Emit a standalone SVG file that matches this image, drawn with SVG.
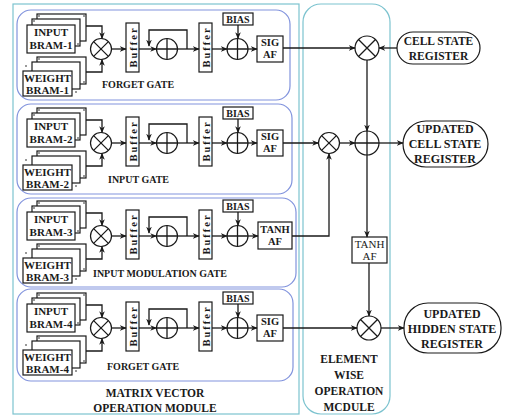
<svg xmlns="http://www.w3.org/2000/svg" width="507" height="417" viewBox="0 0 507 417">
<defs>
<style>
.t{font-family:"Liberation Serif",serif;font-weight:bold;font-size:11px;fill:#1a1a1a;text-anchor:middle}
.tb{font-family:"Liberation Serif",serif;font-weight:bold;font-size:10px;fill:#1a1a1a;text-anchor:middle}
.tg{font-family:"Liberation Serif",serif;font-weight:bold;font-size:10px;fill:#1a1a1a}
.tr{font-family:"Liberation Serif",serif;font-weight:bold;font-size:12px;fill:#1a1a1a;text-anchor:middle}
.tn{font-family:"Liberation Serif",serif;font-size:11px;fill:#1a1a1a;text-anchor:middle}
.bx{fill:#fff;stroke:#1a1a1a;stroke-width:1.2}
.op{fill:#fff;stroke:#1a1a1a;stroke-width:1.2}
.ln{fill:none;stroke:#1a1a1a;stroke-width:1.3}
.ar{fill:none;stroke:#1a1a1a;stroke-width:1.3;marker-end:url(#ah)}
.gate{fill:none;stroke:#8193dd;stroke-width:1.2}
.mod{fill:none;stroke:#7cc3cf;stroke-width:1.2}
.dot{fill:#1a1a1a}
.buf{font-family:"Liberation Serif",serif;font-weight:bold;font-size:10.5px;fill:#1a1a1a;text-anchor:middle;letter-spacing:2px}
</style>
<marker id="ah" viewBox="0 0 10 10" refX="9" refY="5" markerWidth="7" markerHeight="7" orient="auto" markerUnits="userSpaceOnUse">
<path d="M0,1 L10,5 L0,9 L3,5z" fill="#1a1a1a"/>
</marker>
<g id="mul"><circle r="10.5" class="op"/><path d="M-7.4,-7.4L7.4,7.4M-7.4,7.4L7.4,-7.4" class="ln" stroke-width="1"/></g>
<g id="add"><circle r="10.5" class="op"/><path d="M-10.5,0H10.5M0,-10.5V10.5" class="ln" stroke-width="1"/></g>
<g id="mulL"><circle r="12" class="op"/><path d="M-8.5,-8.5L8.5,8.5M-8.5,8.5L8.5,-8.5" class="ln" stroke-width="1"/></g>
<g id="addL"><circle r="12" class="op"/><path d="M-12,0H12M0,-12V12" class="ln" stroke-width="1"/></g>
</defs>
<rect width="507" height="417" fill="#fff"/>

<g id="matrix-vector-module">
<rect class="mod" x="13" y="4" width="286" height="410"/>
<text class="t" style="font-size:11.5px" x="155" y="397">MATRIX VECTOR</text>
<text class="t" style="font-size:11.5px" x="155" y="412">OPERATION MODULE</text>
</g>
<g id="element-wise-module">
<rect class="mod" x="303" y="4" width="87" height="410" rx="18"/>
<text class="t" style="font-size:11.5px" x="349" y="363">ELEMENT</text>
<text class="t" style="font-size:11.5px" x="349" y="379">WISE</text>
<text class="t" style="font-size:11.5px" x="349" y="395">OPERATION</text>
<text class="t" style="font-size:11.5px" x="349" y="411">MCDULE</text>
</g>

<g id="gate-boxes">
<rect id="gate1-box" class="gate" x="17" y="10" width="273" height="90" rx="14"/>
<rect id="gate2-box" class="gate" x="17" y="104" width="275" height="90" rx="14"/>
<rect id="gate3-box" class="gate" x="17" y="198" width="279" height="89" rx="14"/>
<rect id="gate4-box" class="gate" x="17" y="289" width="276" height="92" rx="14"/>
</g>

<!-- gate 1 -->
<g id="gate1" transform="translate(0,0)">
<g id="g1-input-bram">
<rect class="bx" x="37" y="14" width="49" height="27"/><rect class="bx" x="32" y="19" width="48" height="27"/><rect class="bx" x="27" y="25" width="48" height="28"/>
<circle class="dot" cx="39" cy="16" r="0.8"/><circle class="dot" cx="34" cy="21" r="0.8"/><circle class="dot" cx="84" cy="16" r="0.8"/><circle class="dot" cx="78" cy="44" r="0.8"/>
<text class="t" x="51" y="36">INPUT</text><text class="t" x="51" y="49">BRAM-1</text>
</g>
<g id="g1-weight-bram">
<rect class="bx" x="37" y="57" width="49" height="27"/><rect class="bx" x="32" y="62" width="48" height="27"/><rect class="bx" x="23" y="71" width="49" height="25"/>
<circle class="dot" cx="39" cy="59" r="0.8"/><circle class="dot" cx="26" cy="66" r="0.8"/><circle class="dot" cx="84" cy="82" r="0.8"/><circle class="dot" cx="76" cy="92" r="0.8"/>
<text class="t" x="47.5" y="82">WEIGHT</text><text class="t" x="47.5" y="94">BRAM-1</text>
</g>
<g id="g1-mul"><use href="#mul" x="101" y="49"/></g>
<g id="g1-buffer1"><rect class="bx" x="126" y="23" width="13" height="49"/><text class="buf" transform="translate(136.5,47) rotate(-90)">Buffer</text></g>
<g id="g1-acc"><use href="#add" x="167" y="49"/></g>
<g id="g1-buffer2"><rect class="bx" x="199" y="23" width="13" height="49"/><text class="buf" transform="translate(209.5,47) rotate(-90)">Buffer</text></g>
<g id="g1-bias"><rect class="bx" x="223" y="13" width="30" height="12"/><text class="tb" x="238" y="23">BIAS</text></g>
<g id="g1-add"><use href="#add" x="237.5" y="49"/></g>
<g id="g1-af"><rect class="bx" x="257" y="36" width="26" height="26"/><text class="t" style="font-size:10.5px" x="270" y="46">SIG</text><text class="t" style="font-size:10.5px" x="270" y="58">AF</text></g>
<text class="tg" x="102" y="88">FORGET GATE</text>
</g>

<!-- gate 2 -->
<g id="gate2" transform="translate(0,94)">
<g id="g2-input-bram">
<rect class="bx" x="37" y="14" width="49" height="27"/><rect class="bx" x="32" y="19" width="48" height="27"/><rect class="bx" x="27" y="25" width="48" height="28"/>
<circle class="dot" cx="39" cy="16" r="0.8"/><circle class="dot" cx="34" cy="21" r="0.8"/><circle class="dot" cx="84" cy="16" r="0.8"/><circle class="dot" cx="78" cy="44" r="0.8"/>
<text class="t" x="51" y="36">INPUT</text><text class="t" x="51" y="49">BRAM-2</text>
</g>
<g id="g2-weight-bram">
<rect class="bx" x="37" y="57" width="49" height="27"/><rect class="bx" x="32" y="62" width="48" height="27"/><rect class="bx" x="23" y="71" width="49" height="25"/>
<circle class="dot" cx="39" cy="59" r="0.8"/><circle class="dot" cx="26" cy="66" r="0.8"/><circle class="dot" cx="84" cy="82" r="0.8"/><circle class="dot" cx="76" cy="92" r="0.8"/>
<text class="t" x="47.5" y="82">WEIGHT</text><text class="t" x="47.5" y="94">BRAM-2</text>
</g>
<g id="g2-mul"><use href="#mul" x="101" y="49"/></g>
<g id="g2-buffer1"><rect class="bx" x="126" y="23" width="13" height="49"/><text class="buf" transform="translate(136.5,47) rotate(-90)">Buffer</text></g>
<g id="g2-acc"><use href="#add" x="167" y="49"/></g>
<g id="g2-buffer2"><rect class="bx" x="199" y="23" width="13" height="49"/><text class="buf" transform="translate(209.5,47) rotate(-90)">Buffer</text></g>
<g id="g2-bias"><rect class="bx" x="223" y="13" width="30" height="12"/><text class="tb" x="238" y="23">BIAS</text></g>
<g id="g2-add"><use href="#add" x="237.5" y="49"/></g>
<g id="g2-af"><rect class="bx" x="257" y="36" width="26" height="26"/><text class="t" style="font-size:10.5px" x="270" y="46">SIG</text><text class="t" style="font-size:10.5px" x="270" y="58">AF</text></g>
<text class="tg" x="108" y="89">INPUT GATE</text>
</g>

<!-- gate 3 -->
<g id="gate3" transform="translate(0,187)">
<g id="g3-input-bram">
<rect class="bx" x="37" y="14" width="49" height="27"/><rect class="bx" x="32" y="19" width="48" height="27"/><rect class="bx" x="27" y="25" width="48" height="28"/>
<circle class="dot" cx="39" cy="16" r="0.8"/><circle class="dot" cx="34" cy="21" r="0.8"/><circle class="dot" cx="84" cy="16" r="0.8"/><circle class="dot" cx="78" cy="44" r="0.8"/>
<text class="t" x="51" y="36">INPUT</text><text class="t" x="51" y="49">BRAM-3</text>
</g>
<g id="g3-weight-bram">
<rect class="bx" x="37" y="57" width="49" height="27"/><rect class="bx" x="32" y="62" width="48" height="27"/><rect class="bx" x="23" y="71" width="49" height="25"/>
<circle class="dot" cx="39" cy="59" r="0.8"/><circle class="dot" cx="26" cy="66" r="0.8"/><circle class="dot" cx="84" cy="82" r="0.8"/><circle class="dot" cx="76" cy="92" r="0.8"/>
<text class="t" x="47.5" y="82">WEIGHT</text><text class="t" x="47.5" y="94">BRAM-3</text>
</g>
<g id="g3-mul"><use href="#mul" x="101" y="49"/></g>
<g id="g3-buffer1"><rect class="bx" x="126" y="23" width="13" height="49"/><text class="buf" transform="translate(136.5,47) rotate(-90)">Buffer</text></g>
<g id="g3-acc"><use href="#add" x="167" y="49"/></g>
<g id="g3-buffer2"><rect class="bx" x="199" y="23" width="13" height="49"/><text class="buf" transform="translate(209.5,47) rotate(-90)">Buffer</text></g>
<g id="g3-bias"><rect class="bx" x="223" y="13" width="30" height="12"/><text class="tb" x="238" y="23">BIAS</text></g>
<g id="g3-add"><use href="#add" x="237.5" y="49"/></g>
<g id="g3-af"><rect class="bx" x="258" y="35" width="34" height="27"/><text class="t" style="font-size:10.5px" x="275" y="46">TANH</text><text class="t" style="font-size:10.5px" x="275" y="58">AF</text></g>
<text class="tg" x="93" y="90">INPUT MODULATION GATE</text>
</g>

<!-- gate 4 -->
<g id="gate4" transform="translate(0,279)">
<g id="g4-input-bram">
<rect class="bx" x="37" y="14" width="49" height="27"/><rect class="bx" x="32" y="19" width="48" height="27"/><rect class="bx" x="27" y="25" width="48" height="28"/>
<circle class="dot" cx="39" cy="16" r="0.8"/><circle class="dot" cx="34" cy="21" r="0.8"/><circle class="dot" cx="84" cy="16" r="0.8"/><circle class="dot" cx="78" cy="44" r="0.8"/>
<text class="t" x="51" y="36">INPUT</text><text class="t" x="51" y="49">BRAM-4</text>
</g>
<g id="g4-weight-bram">
<rect class="bx" x="37" y="57" width="49" height="27"/><rect class="bx" x="32" y="62" width="48" height="27"/><rect class="bx" x="23" y="71" width="49" height="25"/>
<circle class="dot" cx="39" cy="59" r="0.8"/><circle class="dot" cx="26" cy="66" r="0.8"/><circle class="dot" cx="84" cy="82" r="0.8"/><circle class="dot" cx="76" cy="92" r="0.8"/>
<text class="t" x="47.5" y="82">WEIGHT</text><text class="t" x="47.5" y="94">BRAM-4</text>
</g>
<g id="g4-mul"><use href="#mul" x="101" y="49"/></g>
<g id="g4-buffer1"><rect class="bx" x="126" y="23" width="13" height="49"/><text class="buf" transform="translate(136.5,47) rotate(-90)">Buffer</text></g>
<g id="g4-acc"><use href="#add" x="167" y="49"/></g>
<g id="g4-buffer2"><rect class="bx" x="199" y="23" width="13" height="49"/><text class="buf" transform="translate(209.5,47) rotate(-90)">Buffer</text></g>
<g id="g4-bias"><rect class="bx" x="223" y="13" width="30" height="12"/><text class="tb" x="238" y="23">BIAS</text></g>
<g id="g4-add"><use href="#add" x="237.5" y="49"/></g>
<g id="g4-af"><rect class="bx" x="257" y="36" width="26" height="26"/><text class="t" style="font-size:10.5px" x="270" y="46">SIG</text><text class="t" style="font-size:10.5px" x="270" y="58">AF</text></g>
<text class="tg" x="107" y="91">FORGET GATE</text>
</g>

<!-- element-wise nodes -->
<g id="ew-mul-cell"><use href="#mulL" x="367" y="48"/></g>
<g id="ew-mul-input"><use href="#mul" x="329" y="143"/></g>
<g id="ew-add-cell"><use href="#addL" x="367" y="143"/></g>
<g id="ew-tanh"><rect class="bx" x="352" y="237" width="35" height="26" stroke-width="1"/><text class="tn" x="369.5" y="248">TANH</text><text class="tn" x="369.5" y="260">AF</text></g>
<g id="ew-mul-hidden"><use href="#mulL" x="369" y="328"/></g>

<!-- registers -->
<g id="cell-state-register"><rect class="bx" x="397" y="32" width="83" height="32" rx="16"/><text class="tr" style="font-size:11.5px" x="438.5" y="45">CELL STATE</text><text class="tr" style="font-size:11.5px" x="438.5" y="60">REGISTER</text></g>
<g id="updated-cell-state-register"><rect class="bx" x="403" y="121" width="85" height="46" rx="23"/><text class="tr" x="445" y="133">UPDATED</text><text class="tr" x="445" y="148">CELL STATE</text><text class="tr" x="445" y="163">REGISTER</text></g>
<g id="updated-hidden-state-register"><rect class="bx" x="404" y="303" width="97" height="50" rx="24"/><text class="tr" x="452" y="318">UPDATED</text><text class="tr" x="452" y="333">HIDDEN STATE</text><text class="tr" x="452" y="348">REGISTER</text></g>

<g id="connectors">
<g id="gate1-connectors" transform="translate(0,0)">
<path class="ar" d="M86,26H102V38.5"/><path class="ar" d="M86,72H102V59.5"/>
<path class="ar" d="M111.5,49H126"/><path class="ar" d="M139,49H156.5"/>
<path class="ar" d="M187,49V30H149V46"/><path class="ar" d="M177.5,49H199"/>
<path class="ar" d="M212,49H227"/><path class="ar" d="M238,25V38.5"/><path class="ar" d="M248,49H257"/>
</g>
<g id="gate2-connectors" transform="translate(0,94)">
<path class="ar" d="M86,26H102V38.5"/><path class="ar" d="M86,72H102V59.5"/>
<path class="ar" d="M111.5,49H126"/><path class="ar" d="M139,49H156.5"/>
<path class="ar" d="M187,49V30H149V46"/><path class="ar" d="M177.5,49H199"/>
<path class="ar" d="M212,49H227"/><path class="ar" d="M238,25V38.5"/><path class="ar" d="M248,49H257"/>
</g>
<g id="gate3-connectors" transform="translate(0,187)">
<path class="ar" d="M86,26H102V38.5"/><path class="ar" d="M86,72H102V59.5"/>
<path class="ar" d="M111.5,49H126"/><path class="ar" d="M139,49H156.5"/>
<path class="ar" d="M187,49V30H149V46"/><path class="ar" d="M177.5,49H199"/>
<path class="ar" d="M212,49H227"/><path class="ar" d="M238,25V38.5"/><path class="ar" d="M248,49H258"/>
</g>
<g id="gate4-connectors" transform="translate(0,279)">
<path class="ar" d="M86,26H102V38.5"/><path class="ar" d="M86,72H102V59.5"/>
<path class="ar" d="M111.5,49H126"/><path class="ar" d="M139,49H156.5"/>
<path class="ar" d="M187,49V30H149V46"/><path class="ar" d="M177.5,49H199"/>
<path class="ar" d="M212,49H227"/><path class="ar" d="M238,25V38.5"/><path class="ar" d="M248,49H257"/>
</g>
<path class="ar" d="M283,48H355"/>
<path class="ar" d="M397,48H379"/>
<path class="ar" d="M367,60V131"/>
<path class="ar" d="M283,143H318.5"/>
<path class="ar" d="M339.5,143H355"/>
<path class="ar" d="M379,143H403"/>
<path class="ar" d="M292,236H329V153.5"/>
<path class="ar" d="M367,155V237"/>
<path class="ar" d="M369,263V316"/>
<path class="ar" d="M283,328H357"/>
<path class="ar" d="M381,328H404"/>
</g>
</svg>
